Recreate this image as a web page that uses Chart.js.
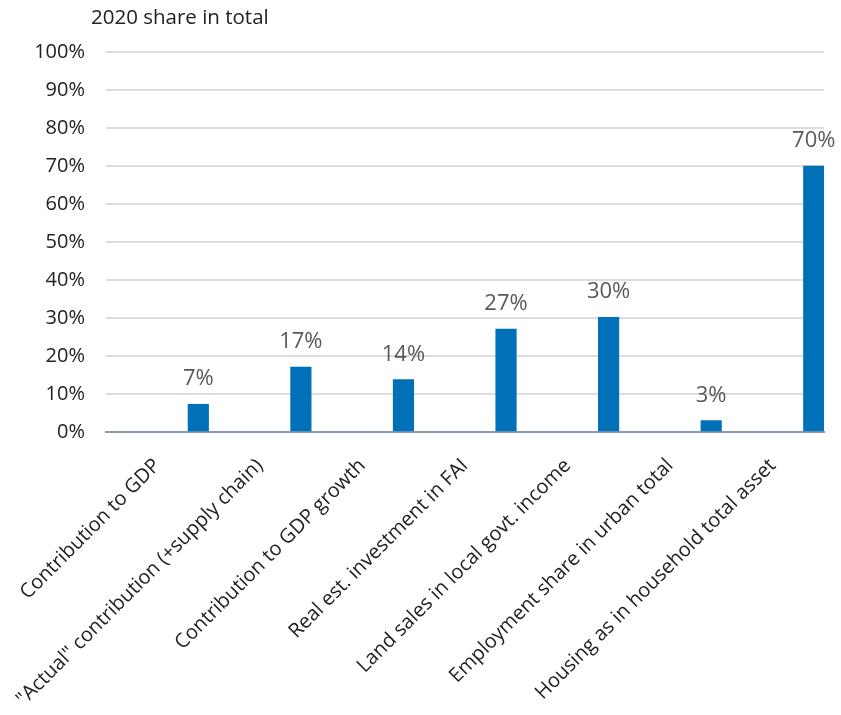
<!DOCTYPE html>
<html>
<head>
<meta charset="utf-8">
<script src="https://cdn.jsdelivr.net/npm/chart.js@4"></script>
<style>
  html, body { margin: 0; padding: 0; background: #fff; }
  #wrap { width: 841px; height: 715px; }
</style>
</head>
<body>
<div id="wrap"><canvas id="shareChart" width="841" height="715"></canvas></div>
<script>
// chart data
const categories = [
    "Contribution to GDP",
    "\"Actual\" contribution (+supply chain)",
    "Contribution to GDP growth",
    "Real est. investment in FAI",
    "Land sales in local govt. income",
    "Employment share in urban total",
    "Housing as in household total asset"
];
const shareValues = [7.3, 17.1, 13.8, 27.1, 30.2, 3.0, 70.0];
const yTicks = [0, 10, 20, 30, 40, 50, 60, 70, 80, 90, 100];
const chartTitle = "2020 share in total";

const fontName = "'Open Sans', sans-serif";
const barColor = '#0070b8';

// draws the % value above each bar
const valueLabels = {
    id: 'valueLabels',
    afterDatasetsDraw(chart) {
        const ctx = chart.ctx;
        const meta = chart.getDatasetMeta(chart.data.datasets.length - 1);
        ctx.save();
        ctx.font = "22px " + fontName;
        ctx.fillStyle = '#595959';
        ctx.textAlign = 'center';
        ctx.textBaseline = 'alphabetic';
        meta.data.forEach((bar, i) => {
            ctx.fillText(Math.round(shareValues[i]) + '%', bar.x, bar.y - 19);
        });
        ctx.restore();
    }
};

// axis title in the top left corner
const topTitle = {
    id: 'topTitle',
    afterDraw(chart) {
        const ctx = chart.ctx;
        ctx.save();
        ctx.font = "20.5px " + fontName;
        ctx.fillStyle = '#222';
        ctx.textAlign = 'left';
        ctx.textBaseline = 'middle';
        ctx.fillText(chartTitle, chart.chartArea.left - 15, 18);
        ctx.restore();
    }
};

// empty spacer series push the real bar to the right side of each slot
const spacer = () => ({ label: '', data: [], backgroundColor: 'rgba(0,0,0,0)' });

new Chart(document.getElementById('shareChart').getContext('2d'), {
    type: 'bar',
    data: {
        labels: categories,
        datasets: [spacer(), spacer(), spacer(), spacer(), {
            label: chartTitle,
            data: shareValues,
            backgroundColor: barColor,
            borderWidth: 0
        }]
    },
    options: {
        responsive: false,
        animation: false,
        categoryPercentage: 1,
        barPercentage: 1,
        layout: { padding: { top: 52, right: 17, left: 0, bottom: 0 } },
        plugins: {
            legend: { display: false },
            tooltip: { enabled: false }
        },
        scales: {
            x: {
                grid: { display: false },
                border: { color: '#8c9bb0', width: 2 },
                ticks: {
                    autoSkip: false,
                    minRotation: 45,
                    maxRotation: 45,
                    color: '#222',
                    padding: 14,
                    font: { family: fontName, size: 20 }
                },
                afterFit(axis) { axis.height = 283; }
            },
            y: {
                min: 0,
                max: 100,
                afterBuildTicks(axis) { axis.ticks = yTicks.map(v => ({ value: v })); },
                grid: { color: '#dadde1', lineWidth: 2, drawTicks: false },
                border: { display: false },
                ticks: {
                    color: '#222',
                    padding: 21,
                    font: { family: fontName, size: 20 },
                    callback: v => v + '%'
                },
                afterFit(axis) { axis.width = 106; }
            }
        }
    },
    plugins: [valueLabels, topTitle]
});
</script>
</body>
</html>
